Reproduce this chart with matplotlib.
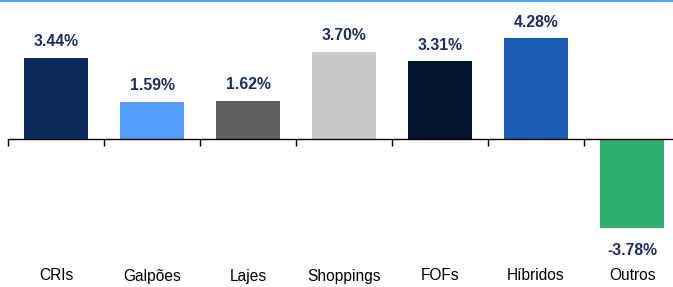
import matplotlib
matplotlib.use("Agg")
import matplotlib.pyplot as plt
from matplotlib.lines import Line2D

categories = ["CRIs", "Galpões", "Lajes", "Shoppings", "FOFs", "Híbridos", "Outros"]
values = [3.44, 1.59, 1.62, 3.70, 3.31, 4.28, -3.78]
labels = ["3.44%", "1.59%", "1.62%", "3.70%", "3.31%", "4.28%", "-3.78%"]
colors = ["#0d2a5c", "#559dff", "#606060", "#c8c8c8", "#06152e", "#1a5cb5", "#2eb072"]

plt.rcParams['font.family'] = ['Liberation Sans', 'DejaVu Sans']

W, H = 673, 287
PX = 23.5  # pixels per percentage point
fig = plt.figure(figsize=(W / 100, H / 100), dpi=100)
ax = fig.add_axes([8 / W, 0, 672 / W, 1])

x = list(range(len(categories)))
ax.bar(x, values, width=0.667, color=colors, zorder=2)
ax.set_xlim(-0.5, len(categories) - 0.5)
ax.set_ylim(-148 / PX, 139 / PX)

for s in ["top", "right", "left"]:
    ax.spines[s].set_visible(False)
ax.spines["bottom"].set_position(("data", 0))
ax.spines["bottom"].set_linewidth(1.0)
ax.set_yticks([])
ax.set_xticks([i - 0.5 for i in range(len(categories) + 1)])
ax.set_xticklabels([])
ax.tick_params(axis="x", direction="out", length=5, width=1.0, color="black")

for xi, v, lab in zip(x, values, labels):
    if v >= 0:
        ax.annotate(lab, (xi, v), xytext=(0, 8.4), textcoords="offset points",
                    ha="center", va="baseline", fontsize=11.3, fontweight="bold", color="#1b2b66")
    else:
        ax.annotate(lab, (xi, v), xytext=(0, -10.8), textcoords="offset points",
                    ha="center", va="top", fontsize=11.3, fontweight="bold", color="#1b2b66")

for xi, c in zip(x, categories):
    ax.text(xi, (139 - 280.5) / PX, c, ha="center", va="baseline", fontsize=11.2, color="black")

fig.add_artist(Line2D([0, 1], [1 - 1 / H, 1 - 1 / H], transform=fig.transFigure,
                      color="#4da3ff", linewidth=1.5))

fig.savefig("out.png", dpi=100)
